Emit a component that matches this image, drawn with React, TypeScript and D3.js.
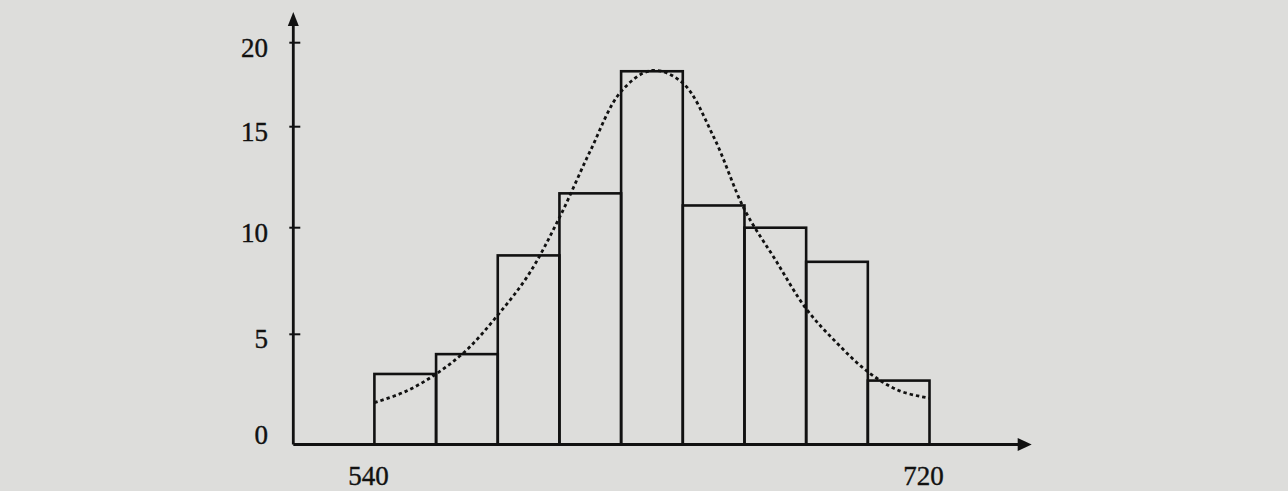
import React from "react";
import * as d3 from "d3";

// histogram bins (interval edges) and their heights
const binEdges = [540, 560, 580, 600, 620, 640, 660, 680, 700, 720];
const frequencies = [3.2, 4.1, 8.7, 11.7, 18.3, 11.1, 10.0, 8.4, 2.9];

// dotted fitted curve
const curveX = [540, 550, 560, 570, 580, 590, 600, 610, 620, 630, 640, 650, 660, 670, 680, 690, 700, 710, 720];
const curveY = [1.9, 2.4, 3.2, 4.3, 5.9, 7.8, 10.5, 13.8, 17.1, 18.35, 17.6, 14.5, 10.9, 8.5, 6.2, 4.6, 3.3, 2.45, 2.1];

const yTicks = [0, 5, 10, 15, 20];
const xLabels = [540, 720];

const App = () => {
  const width = 1288;
  const height = 491;
  const ink = "#111";
  const font = "'Liberation Serif', 'DejaVu Serif', serif";

  // horizontal scale: 540..720 between the outer bar edges
  const x = d3.scaleLinear().domain([540, 720]).range([374.4, 929.5]);
  // the printed y axis is not evenly spaced, so use a piecewise scale
  const y = d3
    .scaleLinear()
    .domain(yTicks)
    .range([444.5, 334.3, 227.7, 126.7, 42.7]);

  const originX = 293.3;
  const originY = y(0);
  const xEnd = 1031.7;
  const yEnd = 12;

  const bars = frequencies.map((f, i) => ({ x0: binEdges[i], x1: binEdges[i + 1], f }));
  const points = curveX.map((v, i) => [v, curveY[i]]);

  const line = d3
    .line()
    .x((d) => x(d[0]))
    .y((d) => y(d[1]))
    .curve(d3.curveCatmullRom);

  return (
    <svg
      width={width}
      height={height}
      viewBox={`0 0 ${width} ${height}`}
      style={{ position: "absolute", left: 0, top: 0, display: "block" }}
    >
      <rect x={0} y={0} width={width} height={height} fill="#dddddb" />

      {/* bars */}
      <g fill="none" stroke={ink} strokeWidth={2.6}>
        {bars.map((b, i) => (
          <rect
            key={i}
            x={x(b.x0)}
            y={y(b.f)}
            width={x(b.x1) - x(b.x0)}
            height={originY - y(b.f)}
          />
        ))}
      </g>

      {/* dotted curve */}
      <path
        d={line(points)}
        fill="none"
        stroke={ink}
        strokeWidth={2.8}
        strokeDasharray="3.4 3"
      />

      {/* axes */}
      <g stroke={ink} strokeWidth={2.8}>
        <line x1={originX} y1={originY} x2={xEnd - 8} y2={originY} />
        <line x1={originX} y1={originY} x2={originX} y2={yEnd + 8} />
        {yTicks
          .filter((t) => t > 0)
          .map((t) => (
            <line key={t} x1={originX - 4} x2={originX + 7} y1={y(t)} y2={y(t)} strokeWidth={2} />
          ))}
      </g>
      <path
        d={`M${originX},${yEnd} L${originX - 5.5},${yEnd + 14} L${originX + 5.5},${yEnd + 14} Z`}
        fill={ink}
      />
      <path
        d={`M${xEnd},${originY} L${xEnd - 14},${originY - 6.5} L${xEnd - 14},${originY + 6.5} Z`}
        fill={ink}
      />

      {/* tick labels */}
      <g fontFamily={font} fontSize={27} fill={ink} stroke={ink} strokeWidth={0.4}>
        {yTicks.map((t) => (
          <text key={t} x={268} y={t === 0 ? originY - 1 : y(t) + 14} textAnchor="end">
            {t}
          </text>
        ))}
        {xLabels.map((v) => (
          <text key={v} x={x(v) - 6} y={485} textAnchor="middle">
            {v}
          </text>
        ))}
      </g>
    </svg>
  );
};

export default App;
